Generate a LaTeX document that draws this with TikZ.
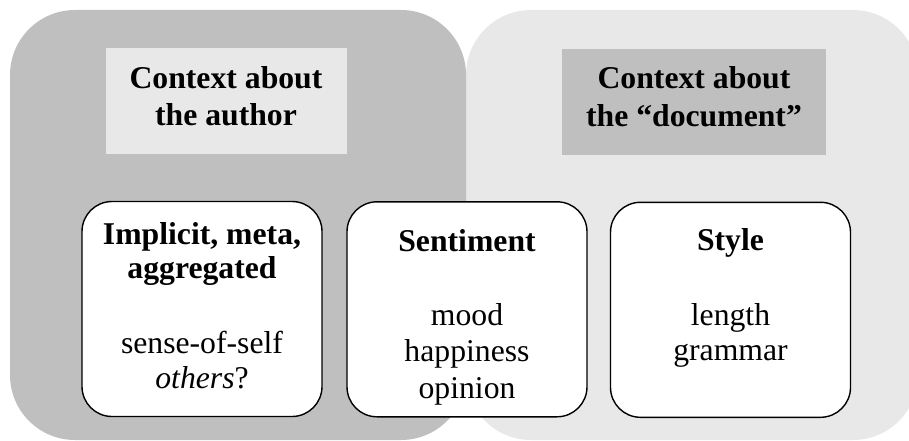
\documentclass[tikz,border=0pt]{standalone}
\usepackage{fontspec}
\setmainfont{Liberation Serif}
\definecolor{darkbg}{RGB}{191,191,191}
\definecolor{lightbg}{RGB}{232,232,232}
\tikzset{
  panel/.style={rounded corners=65pt},
  topic/.style={draw=black, line width=1.4pt, fill=white, rounded corners=30pt,
    minimum width=240pt, minimum height=215pt, inner sep=0pt},
  labelbox/.style={minimum width=241pt, minimum height=106pt, inner sep=0pt},
  ln/.style={anchor=base, inner sep=0pt, font=\fontsize{31.7}{36}\selectfont},
  hd/.style={ln, font=\fontsize{31.7}{36}\selectfont\bfseries},
}
\begin{document}
\begin{tikzpicture}[x=1pt, y=-1pt]
\useasboundingbox (0,0) rectangle (909,441);
\clip (0,0) rectangle (909,441);
% background panels
\fill[lightbg, panel] (466,10) rectangle (918,440);
\fill[darkbg, panel] (10,10) rectangle (466,440);
% context labels
\node[labelbox, fill=lightbg] (lblA) at (226,101) {};
\node[hd] (lblA1) at (226,88.3) {Context about};
\node[hd] (lblA2) at (226,125) {the author};
\node[labelbox, fill=darkbg, minimum width=264pt] (lblB) at (694,102) {};
\node[hd] (lblB1) at (694,89) {Context about};
\node[hd] (lblB2) at (694,126.7) {the ``document''};
% topic boxes
\node[topic] (implicit) at (202,309) {};
\node[topic] (sentiment) at (467,309.3) {};
\node[topic] (style) at (730.5,309.8) {};
% implicit
\node[hd] (i1) at (202,244.3) {Implicit, meta,};
\node[hd] (i2) at (202,278.3) {aggregated};
\node[ln] (i3) at (202,353.3) {sense-of-self};
\node[ln] (i4) at (202,388.3) {\textit{others}?};
% sentiment
\node[hd] (s1) at (467,251.7) {Sentiment};
\node[ln] (s2) at (467,325) {mood};
\node[ln] (s3) at (467,361.7) {happiness};
\node[ln] (s4) at (467,398.3) {opinion};
% style
\node[hd] (t1) at (730.5,250) {Style};
\node[ln] (t2) at (730.5,325) {length};
\node[ln] (t3) at (730.5,360) {grammar};
\end{tikzpicture}
\end{document}
